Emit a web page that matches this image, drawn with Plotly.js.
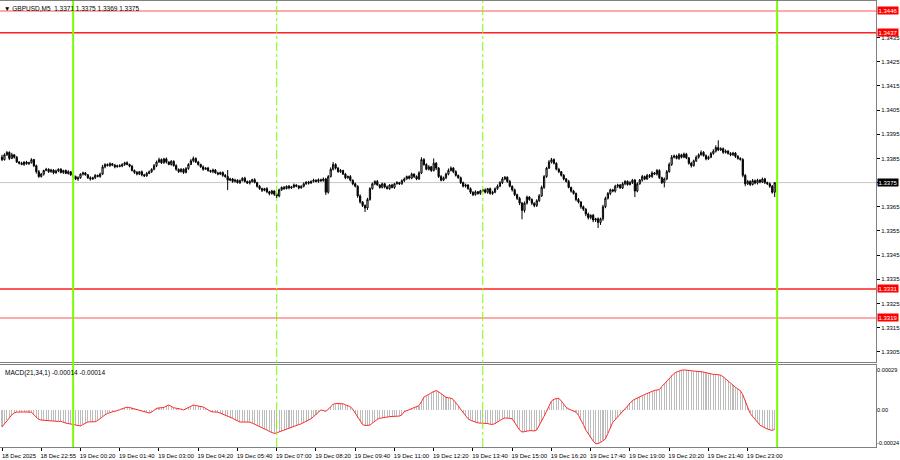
<!DOCTYPE html>
<html><head><meta charset="utf-8">
<script src="https://cdn.plot.ly/plotly-3.0.1.min.js"></script>
<style>html,body{margin:0;padding:0;background:#fff}#chart{width:900px;height:460px}</style>
</head><body><div id="chart"></div>
<script>
const symbolTitle = '\u25BC GBPUSD,M5  1.3371 1.3375 1.3369 1.3375';
const macdTitle = 'MACD(21,34,1) -0.00014 -0.00014';
const priceBase = 1.33;
const pip = 0.0001;
const firstOpen = 85.5;
// closes in pips above 1.3300 (M5 bars, 18 Dec 21:35 -> 19 Dec 23:55)
const closePips = [
84.5,86.5,87.5,85,86.5,85.5,83.5,83,82.5,83.5,
82.8,83.2,84.5,82,79.5,77.5,78.5,80,80.5,79.5,
80.2,79,79.8,80.5,79.2,80,78.8,79.5,78.2,77.5,
76.5,77,78.5,79,78.2,77,76.5,77,78,77.5,
78.5,81.5,82.5,82,82.8,82.2,81.5,82,81.8,82.5,
83.2,82.5,81.8,80,79.2,78.5,79.5,78.2,77.8,78.8,
79.5,80.5,82,83.5,84.5,83.2,84.8,83.5,82.5,83.8,
82,80.5,79.5,80.5,79.2,80.8,82.5,84,85,83.5,
82.5,81.5,80.5,81,80,79.5,80.2,79,78.5,79.2,
78,77.5,76,76.5,75.5,76,75,75.8,76.8,75.5,
74.8,75.5,76.2,75,73.5,72.5,71.8,72.5,71.2,70.5,
71.5,70.2,69.5,72,73,72.5,73.5,72.8,73.2,74,
73.5,72.8,73.5,74.5,75.2,74.8,75.5,76,75.5,76.2,
75.8,76.5,71,77.5,80.5,82.5,81,79.5,80,78.5,
77,77.5,76,74.5,73.5,69.5,67,65.5,64.5,68,
72.5,74.5,75.5,74,73,74.5,73.2,72.5,74,73,
74.5,75,74.5,75.8,76.5,77.5,76.8,78.5,77.5,76.5,
79,84.5,82.5,80.5,81.5,80,83,81,77.5,76,
77,78.5,80,81,79.5,78,77,75,73.5,74,
72.5,71,70,71.2,70.5,71.5,72,71,72.5,
70.5,71,72.5,73.5,75,76.5,77.2,75.5,73.5,72,
70,68.5,66.5,63.5,66.5,69,68,66.5,65.5,67.5,
69.5,73,77.5,81,83.5,84.5,83,80.5,79.5,78,
76.5,75.5,73,71.5,70.5,68,67,65,64,62,
60.5,61.5,59.5,60,58.5,60,65,68.5,70.5,72,
71.5,73.5,74,72.8,74.5,75.5,74.2,75,76,71.5,
74.5,76,77.5,76.5,78,77.5,79,78.5,80,77,
75,76.5,79.5,82.5,85.5,86,85,86.5,85.5,86.8,
85.2,83,82,84,85.5,86.5,87.5,86.2,84.8,85.5,
87,88,89.5,88.5,89,87.5,88,87,86.5,87.2,
85.8,85,84.5,78,74.5,75.5,74.2,75.8,74.8,76,
75.2,76.5,75,74.5,73.5,71,75
];
// wick lengths in tenths of a pip
const upperWick = [
10,6,5,4,8,3,5,4,6,3, 5,4,6,3,4,7,5,3,6,4, 5,3,6,4,5,3,4,6,3,5, 4,6,3,5,4,3,6,4,5,3,
6,8,5,4,6,3,5,4,6,5, 4,6,3,5,4,6,3,5,4,6, 5,4,7,6,8,5,4,6,3,5, 4,6,3,5,4,6,5,7,8,4,
5,3,6,4,5,3,6,4,5,3, 4,6,27,5,4,6,3,5,4,6, 3,5,4,6,3,5,4,3,6,4, 5,3,6,5,4,6,3,5,4,6,
3,5,4,6,3,5,4,6,3,5, 4,6,5,6,8,10,5,4,6,3, 5,4,6,3,5,4,6,3,5,7, 6,5,4,6,3,5,4,6,3,5,
4,6,3,5,6,4,5,6,3,5, 7,10,6,5,7,4,20,5,4,6, 5,6,8,7,4,6,3,5,4,6, 3,5,4,6,3,5,4,6,3,
4,6,5,7,6,8,5,4,6,3, 5,4,6,5,7,6,4,5,3,6, 7,8,6,5,8,7,5,4,6,3, 5,4,6,3,5,4,6,3,5,4,
6,3,5,4,6,5,8,7,6,5, 4,6,5,4,7,5,4,6,5,5, 6,5,7,4,6,5,7,4,6,5, 4,6,7,8,9,6,5,7,4,6,
5,4,6,5,7,6,8,5,4,6, 7,8,9,30,6,5,7,4,6,5, 4,6,5,6,5,6,4,7,5,6, 4,6,5,4,6,5,0
];
const lowerWick = [
6,4,5,7,3,6,4,5,3,6, 4,5,3,6,8,5,4,6,3,5, 4,6,3,5,4,6,3,5,4,6, 5,8,4,6,3,5,7,4,6,3,
5,4,6,3,5,4,6,3,5,4, 6,3,5,4,6,5,4,6,5,4, 3,5,4,6,3,5,4,6,3,5, 4,6,5,3,6,4,5,3,6,4,
5,4,6,3,5,4,6,3,5,4, 6,5,41,4,6,5,4,6,3,5, 4,6,5,3,6,5,7,4,6,8, 5,7,9,6,4,5,3,6,4,5,
4,6,3,5,4,6,3,5,4,6, 5,4,11,6,4,5,6,4,5,3, 6,4,5,6,5,8,7,6,17,8, 5,4,6,3,5,4,6,3,5,4,
6,3,5,4,6,3,5,4,6,5, 4,5,6,4,5,6,4,8,6,5, 4,6,5,4,6,5,4,6,5,6, 5,7,6,4,5,6,4,5,6,
5,6,4,5,4,6,5,6,5,7, 6,7,8,37,9,6,5,8,7,6, 5,4,6,5,4,6,5,4,6,5, 6,5,4,6,5,7,6,8,7,9,
8,7,9,8,23,10,8,6,5,7, 5,6,8,4,5,6,5,4,6,25, 5,4,6,5,4,6,5,4,6,5, 6,20,5,4,6,5,4,6,5,4,
5,6,8,4,5,6,4,5,6,5, 4,5,6,5,4,6,5,4,6,5, 6,5,4,8,10,5,6,4,5,6, 5,4,6,5,7,6,20
];
// MACD(21,34,1) values, units of 0.00001
const macdVals = [
-12.3,-10,-7.5,-5,-3.5,-2.2,-1.5,-1.5,-1.3,-1.4,
-1.5,-1.3,-1.6,-3.5,-5.5,-6.8,-7.3,-7.5,-7.6,-7.8,
-8,-8,-8.2,-8.3,-8.2,-9,-9.5,-9.8,-10.2,-10.5,
-11,-11.3,-11.6,-10.5,-9.5,-8.7,-8.6,-8.8,-8.5,-7.6,
-6,-4.5,-3.5,-2.5,-1.6,-1.3,-1,-0.6,0.2,1,
1.6,2,1.8,1.3,0.8,0.4,0,-0.5,-1.2,-1.8,
-2.2,-1.5,0,1.2,1.5,1.4,1.8,2.8,3.6,2.6,
1.6,1.3,1.2,0.6,0,1,2.2,3.2,3.6,3.2,
2.8,2.5,2.2,1.2,0,-1,-1.4,-1.4,-1.6,-2.3,
-3,-3.8,-4.5,-5,-6,-7,-8,-8.7,-8.7,-8.6,
-8.8,-8.8,-9.5,-10.3,-11,-11.8,-12.5,-13.5,-14.5,-15.5,
-16.5,-17,-16.5,-15.8,-15,-14.5,-13.8,-13,-12.4,-11.8,
-11.2,-10.6,-10,-9.2,-8.4,-7.6,-6.3,-4.8,-3.3,-1.6,
0,-0.4,-1,0.5,2.5,4.2,4.7,4.8,4.7,4.5,
3.8,3,2.4,0.5,-2.5,-5.5,-8.3,-10.5,-11.2,-11.3,
-11,-9.5,-8,-6.8,-6,-5.6,-5.2,-5,-4.8,-4.7,
-4.7,-4.6,-4.4,-3.5,-1.2,-0.5,0.2,1,1.6,2.4,
3.2,6,9.3,10.5,11.2,12.5,13.6,14.1,13.2,11.8,
10,9.2,8.8,8.6,7.5,5.5,3,0.5,-2,-4.3,
-6.4,-7.5,-8.3,-8.9,-9.3,-9.5,-9.5,-9.6,-9.8,
-10.3,-10.5,-9.8,-8.6,-7.4,-6.5,-5.8,-5.7,-6,-6.4,
-9,-12,-14.5,-16,-15.5,-15.2,-15,-15,-15.2,-14.5,
-11.5,-8,-4.5,-1,2.5,6.5,7.8,8,8.5,6.5,
4,1.9,0.8,0,-0.8,-1.6,-3.8,-7,-10.5,-14.5,
-17.5,-20,-22.5,-24.5,-24.3,-23.5,-22,-21,-17,-13,
-9,-7,-5,-3,-1,1,3,5,6.8,7.8,
8.5,9.5,10.4,11.2,12,12.8,13.7,14.2,14.5,14.8,
17,19,21,23,25,26.5,27.5,28.2,28.8,29,
29,28.8,28.5,28.2,28,28,28,27.5,27,26.5,
26,25.8,25.8,25.6,25.2,24,22.5,20.8,19,17.8,
16.5,15.2,14,11,7,2,-2.5,-4.5,-6.5,-9,
-11,-12,-13,-13.8,-14.3,-14.8,-14
];
const tickBars = [0,16,32,48,64,80,96,112,128,144,160,176,192,208,224,240,256,272,288,304];
const tickText = ['18 Dec 2025','18 Dec 22:55','19 Dec 00:20','19 Dec 01:40','19 Dec 03:00','19 Dec 04:20',
 '19 Dec 05:40','19 Dec 07:00','19 Dec 08:20','19 Dec 09:40','19 Dec 11:00','19 Dec 12:20','19 Dec 13:40',
 '19 Dec 15:00','19 Dec 16:20','19 Dec 17:40','19 Dec 19:00','19 Dec 20:20','19 Dec 21:40','19 Dec 23:00'];
const priceTicks = [1.3305,1.3315,1.3325,1.3335,1.3345,1.3355,1.3365,1.3375,1.3385,1.3395,1.3405,1.3415,1.3425,1.3435];
const macdTicks = [0.00029,0,-0.00024];
const macdTickText = ['0.00029','0.00','-0.00024'];
const levelPrices = [1.3446,1.3437,1.3331,1.3319];
const lastPrice = 1.3375;
const dayStartBars = [29,316];
const sessionBars = [112,196];

const n = closePips.length;
const idx = closePips.map((_, i) => i);
const op = [], hi = [], lo = [], cl = [];
for (let i = 0; i < n; i++) {
  const o = i === 0 ? firstOpen : closePips[i-1];
  const c = closePips[i];
  op.push(priceBase + o*pip);
  cl.push(priceBase + c*pip);
  hi.push(priceBase + (Math.max(o,c) + upperWick[i]/10)*pip);
  lo.push(priceBase + (Math.min(o,c) - lowerWick[i]/10)*pip);
}
const macd = macdVals.map(v => v*1e-5);

const FONT = 'Liberation Sans, Arial, sans-serif';
const xr = [-0.815, 356.3];

const traces = [
  {type:'candlestick', x:idx, open:op, high:hi, low:lo, close:cl, xaxis:'x', yaxis:'y',
   increasing:{line:{color:'#000',width:1}, fillcolor:'#ffffff'},
   decreasing:{line:{color:'#000',width:1}, fillcolor:'#000000'},
   whiskerwidth:0, hoverinfo:'skip'},
  {type:'bar', x:idx, y:macd, xaxis:'x2', yaxis:'y2', width:0.42,
   marker:{color:'#bcbcbc', line:{width:0}}, hoverinfo:'skip'},
  {type:'scatter', mode:'lines', x:idx, y:macd, xaxis:'x2', yaxis:'y2',
   line:{color:'#ff2a2a', width:1}, hoverinfo:'skip'}
];

const shapes = [];
const annotations = [];
const lvlStyle = [
  {color:'#ff8c8c', width:1.5},
  {color:'#ff2020', width:1.5},
  {color:'#ff2020', width:1.5},
  {color:'#ff8c8c', width:1.5}
];
shapes.push({type:'line', xref:'paper', x0:0, x1:1, yref:'y', y0:lastPrice, y1:lastPrice,
  line:{color:'#c8c8c8', width:1}, layer:'below'});
levelPrices.forEach((p, k) => {
  shapes.push({type:'line', xref:'paper', x0:0, x1:1, yref:'y', y0:p, y1:p, line:lvlStyle[k]});
  annotations.push({xref:'paper', x:1, xanchor:'left', xshift:1, yref:'y', y:p, yanchor:'middle',
    text:p.toFixed(4), showarrow:false, bgcolor:'#ff0000', borderpad:0.5,
    font:{family:FONT, size:6, color:'#ffffff'}});
});
annotations.push({xref:'paper', x:1, xanchor:'left', xshift:1, yref:'y', y:lastPrice, yanchor:'middle',
  text:lastPrice.toFixed(4), showarrow:false, bgcolor:'#000000', borderpad:0.5,
  font:{family:FONT, size:6, color:'#ffffff'}});
dayStartBars.forEach(b => shapes.push({type:'line', xref:'x', x0:b, x1:b, yref:'paper', y0:0, y1:1,
  line:{color:'#7cfc00', width:2}}));
sessionBars.forEach(b => shapes.push({type:'line', xref:'x', x0:b, x1:b, yref:'paper', y0:0, y1:1,
  line:{color:'#7cfc00', width:1, dash:'dashdot'}}));

annotations.push({xref:'paper', yref:'paper', x:0, y:1, xanchor:'left', yanchor:'top', xshift:2, yshift:-2,
  text:symbolTitle, showarrow:false, font:{family:FONT, size:6.5, color:'#000'}});
annotations.push({xref:'paper', yref:'paper', x:0, y:0.1839, xanchor:'left', yanchor:'top', xshift:3, yshift:-2,
  text:macdTitle, showarrow:false, font:{family:FONT, size:6.5, color:'#000'}});

const axLine = {showline:true, mirror:true, linecolor:'#808080', linewidth:1, showgrid:false, zeroline:false};

const layout = {
  width:900, height:460, margin:{l:0, r:24, t:1, b:13},
  paper_bgcolor:'#ffffff', plot_bgcolor:'#ffffff', showlegend:false,
  font:{family:FONT, size:6, color:'#000'},
  xaxis:Object.assign({anchor:'y', domain:[0,1], range:xr, showticklabels:false, ticks:'',
    rangeslider:{visible:false}, fixedrange:true}, axLine),
  yaxis:Object.assign({anchor:'x', domain:[0.1906,1], side:'right', range:[1.33008,1.34501],
    tickmode:'array', tickvals:priceTicks,
    ticktext:priceTicks.map(v => Math.abs(v - lastPrice) < 1e-9 ? '' : v.toFixed(4)),
    ticks:'outside', ticklen:3, tickcolor:'#000', tickfont:{family:FONT, size:6, color:'#000'}}, axLine),
  xaxis2:Object.assign({anchor:'y2', domain:[0,1], range:xr, tickmode:'array', tickvals:tickBars, ticktext:tickText,
    ticks:'outside', ticklen:3, tickcolor:'#000', ticklabelshift:17, tickangle:0,
    tickfont:{family:FONT, size:6, color:'#000'}}, axLine),
  yaxis2:Object.assign({anchor:'x2', domain:[0,0.1839], side:'right', range:[-0.000268,0.000326],
    tickmode:'array', tickvals:macdTicks, ticktext:macdTickText, ticklabelstandoff:-1,
    ticks:'', tickfont:{family:FONT, size:5.6, color:'#000'}}, axLine),
  bargap:0,
  shapes:shapes, annotations:annotations
};

Plotly.newPlot('chart', traces, layout, {staticPlot:true, displayModeBar:false});
</script></body></html>
